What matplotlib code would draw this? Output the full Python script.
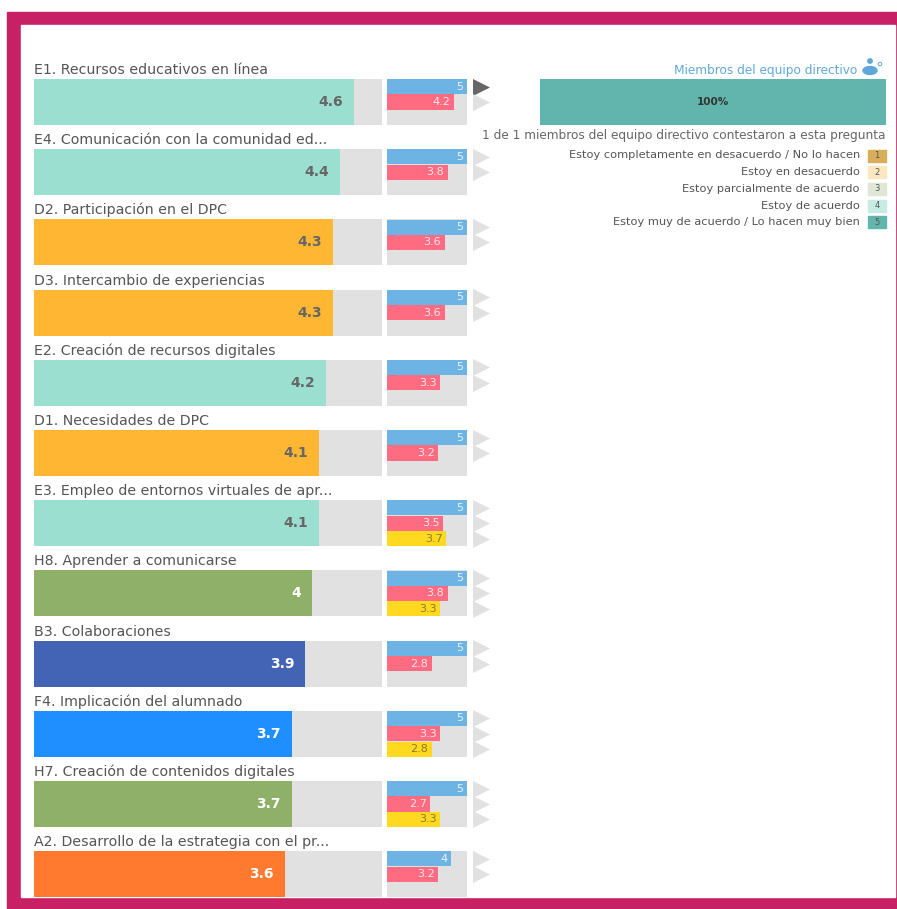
import matplotlib
matplotlib.use('Agg')
import matplotlib.pyplot as plt
from matplotlib.patches import Rectangle, Ellipse, Circle

plt.rcParams['font.family'] = ['DejaVu Sans']

labels = ['E1. Recursos educativos en línea', 'E4. Comunicación con la comunidad ed...',
          'D2. Participación en el DPC', 'D3. Intercambio de experiencias',
          'E2. Creación de recursos digitales', 'D1. Necesidades de DPC',
          'E3. Empleo de entornos virtuales de apr...', 'H8. Aprender a comunicarse',
          'B3. Colaboraciones', 'F4. Implicación del alumnado',
          'H7. Creación de contenidos digitales', 'A2. Desarrollo de la estrategia con el pr...']
main_values = [4.6, 4.4, 4.3, 4.3, 4.2, 4.1, 4.1, 4, 3.9, 3.7, 3.7, 3.6]
main_colors = ['#9adfd0', '#9adfd0', '#ffb733', '#ffb733', '#9adfd0', '#ffb733',
               '#9adfd0', '#8fb069', '#4363b5', '#1f8fff', '#8fb069', '#ff7a2f']
main_text = ['#666666'] * 7 + ['white'] * 5

blue_values = [5, 5, 5, 5, 5, 5, 5, 5, 5, 5, 5, 4]
pink_values = [4.2, 3.8, 3.6, 3.6, 3.3, 3.2, 3.5, 3.8, 2.8, 3.3, 2.7, 3.2]
yellow_values = [None, None, None, None, None, None, 3.7, 3.3, None, 2.8, 3.3, None]

legend_labels = ['Estoy completamente en desacuerdo / No lo hacen', 'Estoy en desacuerdo',
                 'Estoy parcialmente de acuerdo', 'Estoy de acuerdo',
                 'Estoy muy de acuerdo / Lo hacen muy bien']
legend_colors = ['#d9ae5b', '#fbe8c0', '#e0e8d5', '#c6ece4', '#62b5ac']

W, H = 897, 909
fig = plt.figure(figsize=(W / 100, H / 100), dpi=100)


def make_ax(x0, y0, x1, y1):
    a = fig.add_axes([x0 / W, 1 - y1 / H, (x1 - x0) / W, (y1 - y0) / H])
    a.axis('off')
    return a


# page and frame, in pixel coordinates
bg = make_ax(0, 0, W, H)
bg.set_xlim(0, W)
bg.set_ylim(H, 0)
bg.add_patch(Rectangle((7, 12), 890, 897, color='#c82064'))
bg.add_patch(Rectangle((21, 25), 874, 872, color='white'))

n = len(labels)
step = 70.2
rows = list(range(n))
y_top = 79
y_bot = y_top + step * n
frac = 46 / step

# big bars
ax = make_ax(34, y_top, 382, y_bot)
ax.set_xlim(0, 5)
ax.set_ylim(n, 0)
centers = [r + frac / 2 for r in rows]
ax.barh(centers, [5] * n, height=frac, color='#e1e1e1')
ax.barh(centers, main_values, height=frac, color=main_colors)
for r, v, c, lab in zip(centers, main_values, main_text, labels):
    ax.annotate(str(v), (v, r), xytext=(-8, 0), textcoords='offset points', ha='right', va='center',
                fontsize=10, fontweight='bold', color=c)
    ax.annotate(lab, (0, r - frac / 2), xytext=(0, 1.5), textcoords='offset points', ha='left', va='bottom',
                fontsize=10.2, color='#555555', annotation_clip=False)

# small bars with the three comparison series
ax2 = make_ax(387, y_top, 467, y_bot)
ax2.set_xlim(0, 5)
ax2.set_ylim(n, 0)
sub = frac / 3
ax2.barh(centers, [5] * n, height=frac, color='#e1e1e1')
for offset, vals, col, txt in [(-sub, blue_values, '#6db3e4', '#e8f3fb'),
                               (0, pink_values, '#ff6b81', '#ffe6ea'),
                               (sub, yellow_values, '#ffd91f', '#8a7a2a')]:
    for r, v in zip(centers, vals):
        if v is None:
            continue
        ax2.barh(r + offset, v, height=sub * 0.98, color=col)
        ax2.annotate(str(v), (v, r + offset), xytext=(-2.5, 0), textcoords='offset points',
                     ha='right', va='center', fontsize=8, color=txt)

# arrows
ax3 = make_ax(470, y_top, 492, y_bot)
ax3.set_xlim(0, 1)
ax3.set_ylim(n, 0)
for i, r in enumerate(centers):
    ax3.scatter([0.5], [r - sub], marker='>', s=150, linewidths=0, color='#666666' if i == 0 else '#e1e1e1')
    ax3.scatter([0.5], [r], marker='>', s=150, linewidths=0, color='#e1e1e1')
    if yellow_values[i] is not None:
        ax3.scatter([0.5], [r + sub], marker='>', s=150, linewidths=0, color='#e1e1e1')

# right panel
ax4 = make_ax(540, y_top, 886, 125)
ax4.set_xlim(0, 100)
ax4.set_ylim(0, 1)
ax4.barh([0.5], [100], height=1, color='#62b5ac')
ax4.text(50, 0.5, '100%', ha='center', va='center', fontsize=7.5, fontweight='bold', color='#333333')

bg.text(857, 70.5, 'Miembros del equipo directivo', ha='right', va='center', fontsize=8.7, color='#5fa8dc')
bg.add_patch(Ellipse((870, 70.5), 14, 8, color='#5fa8dc'))
bg.add_patch(Circle((870, 61), 2.2, color='#5fa8dc'))
bg.add_patch(Circle((880, 64), 1.8, fill=False, ec='#5fa8dc', lw=0.7))
bg.text(886, 135.5, '1 de 1 miembros del equipo directivo contestaron a esta pregunta',
        ha='right', va='center', fontsize=8.7, color='#666666')

for i, (lab, col) in enumerate(zip(legend_labels, legend_colors)):
    yc = 155.5 + i * 16.7
    bg.text(860, yc, lab, ha='right', va='center', fontsize=8.2, color='#555555')
    bg.add_patch(Rectangle((868, yc - 6), 18, 12, color=col))
    bg.text(877, yc, str(i + 1), ha='center', va='center', fontsize=6, color='#555555')

fig.savefig('out.png', dpi=100)
